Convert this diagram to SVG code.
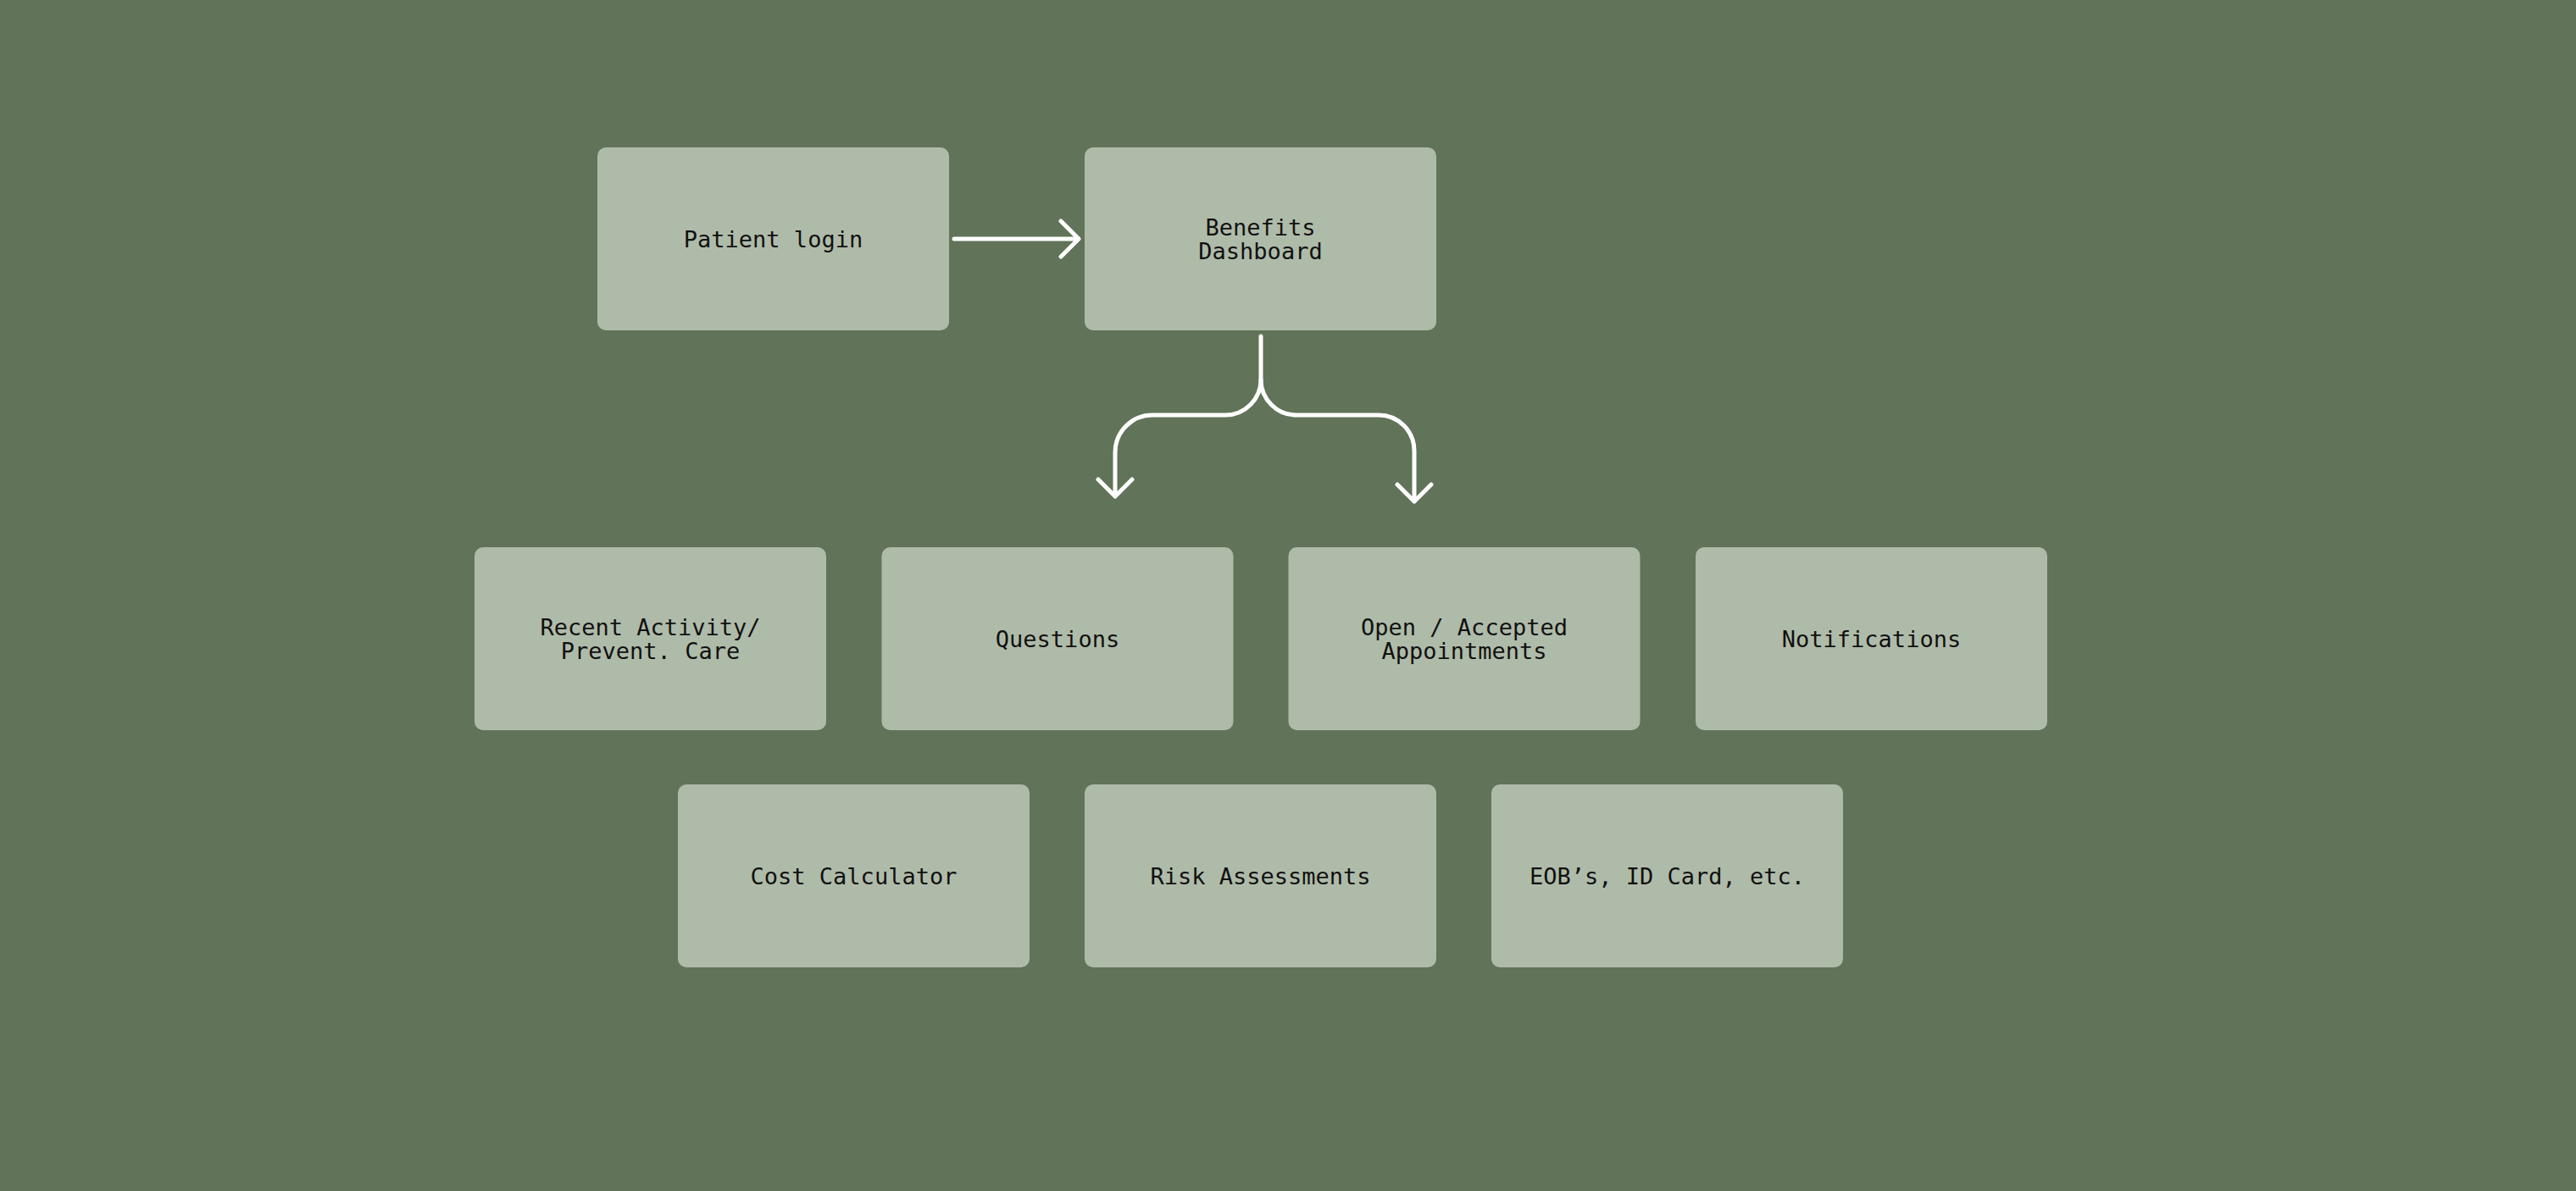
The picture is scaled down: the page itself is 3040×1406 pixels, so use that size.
<svg xmlns="http://www.w3.org/2000/svg" width="3040" height="1406" viewBox="0 0 3040 1406">
<style>
.box{fill:#afbba9}
.t{font-family:"DejaVu Sans Mono","Liberation Mono",monospace;font-size:27px;fill:#111111;text-anchor:middle}
.c{fill:none;stroke:#ffffff;stroke-width:5;stroke-linecap:round;stroke-linejoin:round}
</style>
<rect x="0" y="0" width="3040" height="1406" fill="#617358"/>
<g id="patient-login"><rect class="box" x="705" y="174" width="415" height="216" rx="10"/><text class="t" x="912.5" y="291.5">Patient login</text></g>
<g id="benefits-dashboard"><rect class="box" x="1280" y="174" width="415" height="216" rx="10"/><text class="t" x="1487.5" y="277.5">Benefits</text><text class="t" x="1487.5" y="305.5">Dashboard</text></g>
<g id="recent-activity"><rect class="box" x="560" y="646" width="415" height="216" rx="10"/><text class="t" x="767.5" y="749.5">Recent Activity/</text><text class="t" x="767.5" y="777.5">Prevent. Care</text></g>
<g id="questions"><rect class="box" x="1040.5" y="646" width="415" height="216" rx="10"/><text class="t" x="1248" y="763.5">Questions</text></g>
<g id="appointments"><rect class="box" x="1520.5" y="646" width="415" height="216" rx="10"/><text class="t" x="1728" y="749.5">Open / Accepted</text><text class="t" x="1728" y="777.5">Appointments</text></g>
<g id="notifications"><rect class="box" x="2001" y="646" width="415" height="216" rx="10"/><text class="t" x="2208.5" y="763.5">Notifications</text></g>
<g id="cost-calculator"><rect class="box" x="800" y="926" width="415" height="216" rx="10"/><text class="t" x="1007.5" y="1043.5">Cost Calculator</text></g>
<g id="risk-assessments"><rect class="box" x="1280" y="926" width="415" height="216" rx="10"/><text class="t" x="1487.5" y="1043.5">Risk Assessments</text></g>
<g id="eobs"><rect class="box" x="1760" y="926" width="415" height="216" rx="10"/><text class="t" x="1967.5" y="1043.5">EOB’s, ID Card, etc.</text></g>
<g id="connectors">
<path class="c" d="M1126,282 H1272 M1252,261 L1273,282 L1252,303"/>
<path class="c" d="M1488,397 V448 A42,42 0 0 1 1446,490 H1360 A44,44 0 0 0 1316,534 V586 M1296,566 L1316,586 L1336,566"/>
<path class="c" d="M1488,448 A42,42 0 0 0 1530,490 H1627 A42,42 0 0 1 1669,532 V592 M1649,572 L1669,592 L1689,572"/>
</g>
</svg>
